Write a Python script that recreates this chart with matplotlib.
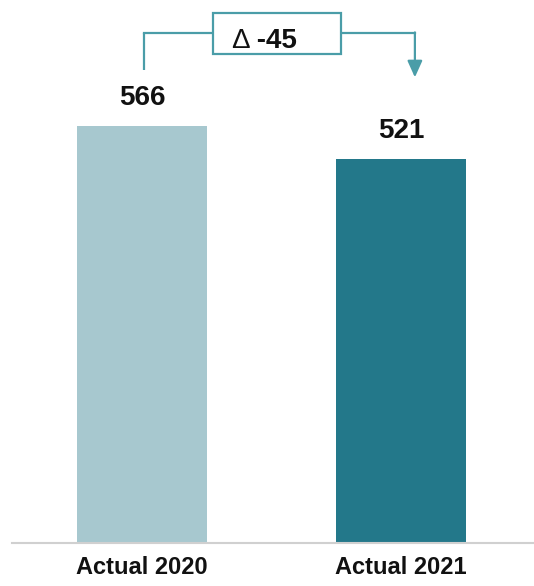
import matplotlib
matplotlib.use("Agg")
import matplotlib.pyplot as plt
from matplotlib.patches import Rectangle

categories = ["Actual 2020", "Actual 2021"]
values = [566, 521]
delta_label = "-45"
bar_colors = ["#A7C8CF", "#23788A"]
line_color = "#4A9DA8"

plt.rcParams['font.family'] = ['Liberation Sans', 'DejaVu Sans']

fig = plt.figure(figsize=(5.34, 5.86), dpi=100)
ax = fig.add_axes([12/534, 43/586, 522/534, 543/586])
x = list(range(len(categories)))
ax.bar(x, values, width=0.5, color=bar_colors, zorder=2)
ax.set_xlim(-0.502, 1.514)
ax.set_ylim(0, 737)

for s in ["top", "right", "left"]:
    ax.spines[s].set_visible(False)
ax.spines["bottom"].set_color("#D0D0D0")
ax.spines["bottom"].set_linewidth(1.5)
ax.set_yticks([])
ax.set_xticks(x)
ax.set_xticklabels(categories, fontsize=17, fontweight="bold", color="#111111")
ax.tick_params(axis="x", length=0, pad=9)

for xi, v in zip(x, values):
    ax.annotate(str(v), (xi, v), xytext=(0, 20), textcoords="offset points",
                ha="center", va="center", fontsize=20, fontweight="bold", color="#111111")

# delta bracket
y_top = 692
lw = 1.6
ax.plot([x[0] + 0.008, x[0] + 0.008], [642, y_top], color=line_color, lw=lw, solid_capstyle="butt")
ax.plot([x[0] + 0.008, 0.274], [y_top, y_top], color=line_color, lw=lw)
ax.plot([0.768, x[1] + 0.054], [y_top, y_top], color=line_color, lw=lw)
ax.annotate("", xy=(x[1] + 0.054, 632), xytext=(x[1] + 0.054, y_top + 1),
            arrowprops=dict(arrowstyle="-|>,head_length=1.0,head_width=0.45",
                            color=line_color, lw=lw, shrinkA=0, shrinkB=0))
ax.add_patch(Rectangle((0.274, 664), 0.768 - 0.274, 719 - 664, facecolor="white",
                       edgecolor=line_color, lw=lw, zorder=3))
ax.text(0.415, 681, "Δ", ha="right", va="center", fontsize=20, color="#111111", zorder=4)
ax.text(0.415, 681, " " + delta_label, ha="left", va="center", fontsize=20, fontweight="bold",
        color="#111111", zorder=4)

fig.savefig("out.png", dpi=100)
